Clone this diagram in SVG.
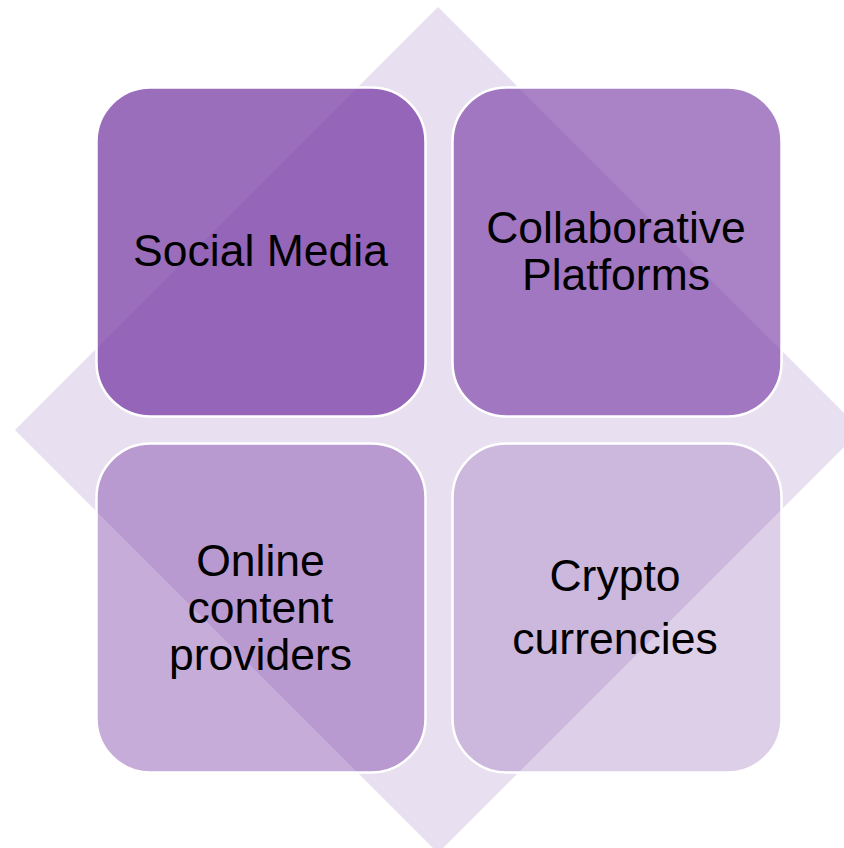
<svg xmlns="http://www.w3.org/2000/svg" width="844" height="848" viewBox="0 0 844 848">
<style>
.box{stroke:#ffffff;stroke-width:2.5}
.lbl{font-family:"Liberation Sans",Arial,sans-serif;font-size:44.5px;fill:#000000;text-anchor:middle}
</style>
<rect width="844" height="848" fill="#ffffff"/>
<g id="background">
<polygon points="438,7 861,430 438,853 15,430" fill="#e8e0f0"/>
</g>
<g id="social-media">
<rect class="box" x="96.5" y="87.5" width="329" height="329" rx="54" fill="#7030a0" fill-opacity="0.7"/>
<text class="lbl" x="260.5" y="266">Social Media</text>
</g>
<g id="collaborative-platforms">
<rect class="box" x="452.5" y="87.5" width="329" height="329" rx="54" fill="#7030a0" fill-opacity="0.6"/>
<text class="lbl" x="616" y="243">Collaborative</text>
<text class="lbl" x="616" y="290">Platforms</text>
</g>
<g id="online-content-providers">
<rect class="box" x="96.5" y="443.5" width="329" height="329" rx="54" fill="#7030a0" fill-opacity="0.4"/>
<text class="lbl" x="260.5" y="576">Online</text>
<text class="lbl" x="260.5" y="623">content</text>
<text class="lbl" x="260.5" y="670">providers</text>
</g>
<g id="crypto-currencies">
<rect class="box" x="452.5" y="443.5" width="329" height="329" rx="54" fill="#7030a0" fill-opacity="0.23"/>
<text class="lbl" x="615" y="591">Crypto</text>
<text class="lbl" x="615" y="654">currencies</text>
</g>
<g id="connectors"/>
</svg>
